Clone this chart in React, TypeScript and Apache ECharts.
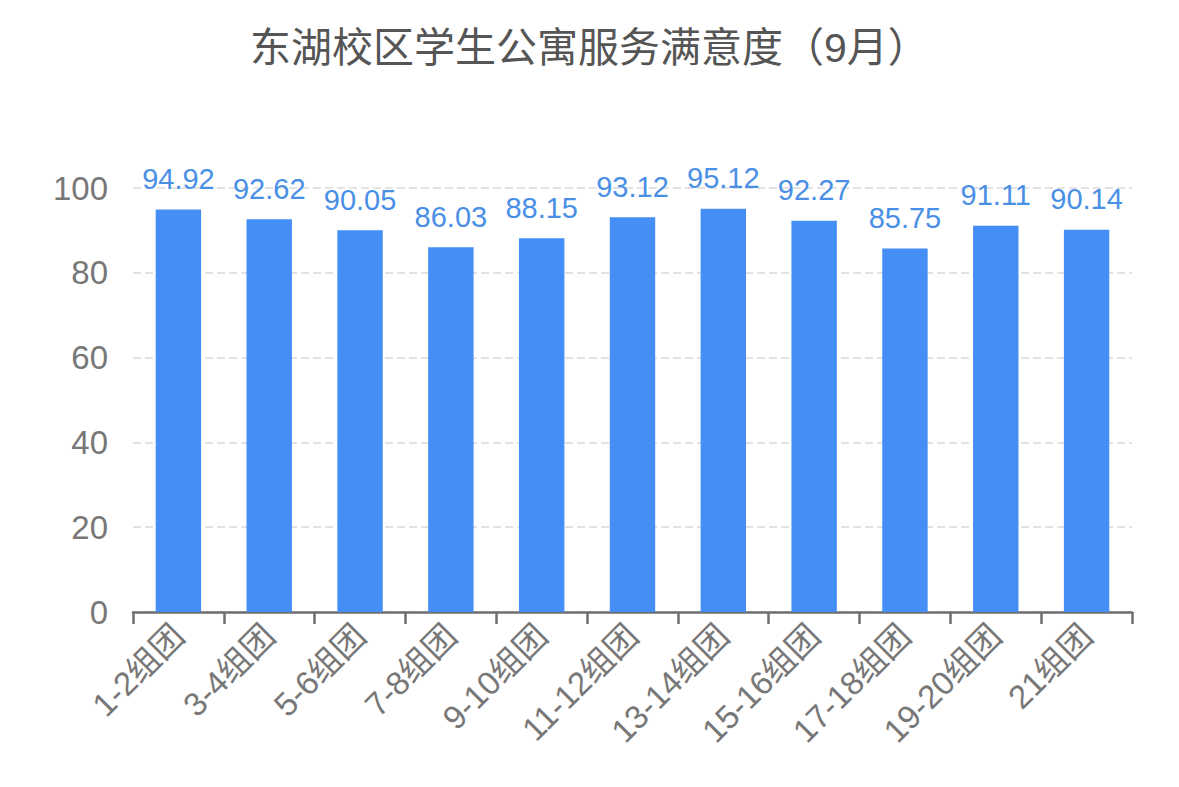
import React, { useEffect, useRef } from "react";
import * as echarts from "echarts";

const titleText = "东湖校区学生公寓服务满意度（9月）";
const categories = [
  "1-2组团",
  "3-4组团",
  "5-6组团",
  "7-8组团",
  "9-10组团",
  "11-12组团",
  "13-14组团",
  "15-16组团",
  "17-18组团",
  "19-20组团",
  "21组团",
];
const values = [94.92, 92.62, 90.05, 86.03, 88.15, 93.12, 95.12, 92.27, 85.75, 91.11, 90.14];

const FONT = "'Liberation Sans', 'Noto Sans CJK SC', sans-serif";

export default function App() {
  const ref = useRef<HTMLDivElement>(null);
  useEffect(() => {
    if (!ref.current) return;
    const chart = echarts.init(ref.current, undefined, { renderer: "svg" });
    chart.setOption({
      animation: false,
      title: {
        text: titleText,
        left: 237,
        top: 14,
        textStyle: { fontSize: 41, fontWeight: "normal", color: "#555", fontFamily: FONT },
      },
      grid: { left: 125, right: 39, top: 180, bottom: 167 },
      xAxis: {
        type: "category",
        data: categories,
        axisLine: { show: true, lineStyle: { color: "#6e6e73", width: 2.5 } },
        axisTick: { show: true, length: 12, lineStyle: { color: "#6e6e73", width: 2.5 } },
        axisLabel: {
          interval: 0,
          rotate: 45,
          fontSize: 33,
          color: "#777",
          fontFamily: FONT,
          margin: 18,
        },
      },
      yAxis: {
        type: "value",
        min: 0,
        max: 100,
        interval: 20,
        axisLine: { show: false },
        axisTick: { show: false },
        axisLabel: { fontSize: 33, color: "#777", fontFamily: FONT, margin: 25 },
        splitLine: { lineStyle: { type: "dashed", color: "#e3e3e3", width: 2 } },
      },
      series: [
        {
          type: "bar",
          data: values,
          barWidth: "50%",
          itemStyle: { color: "#448ef6" },
          label: {
            show: true,
            position: "top",
            distance: 16,
            fontSize: 29,
            color: "#4a8fe6",
            fontFamily: FONT,
          },
        },
      ],
    });
    return () => chart.dispose();
  }, []);
  return <div ref={ref} style={{ width: 1163, height: 771 }} />;
}
